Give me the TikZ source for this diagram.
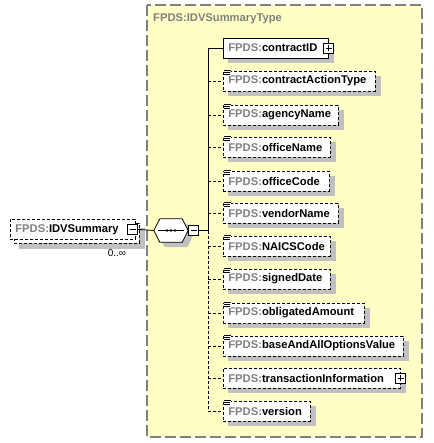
\documentclass[tikz,border=0pt]{standalone}
\usepackage{fontspec}
\setmainfont{Liberation Sans}
\usetikzlibrary{calc}
\definecolor{typebg}{HTML}{FFFFC5}
\definecolor{pfxgray}{HTML}{808080}
\definecolor{shadowgray}{HTML}{C0C0C0}
\definecolor{framegray}{HTML}{808080}
\pgfdeclarelayer{bg}
\pgfdeclarelayer{shadowlayer}
\pgfsetlayers{bg,shadowlayer,main}
\newcommand{\el}[2]{\makebox[#1][l]{\textbf{{\color{pfxgray}FPDS:}#2}}}
\tikzset{
  lbl/.style={font=\fontsize{11.2}{13}\selectfont},
  elembox/.style={draw, fill=white, line width=0.8pt, anchor=west,
    minimum height=20pt, inner xsep=5pt, inner ysep=0pt, lbl},
  optbox/.style={elembox, dash pattern=on 3pt off 2pt},
  pmbox/.style={draw, fill=white, line width=0.9pt, minimum size=10pt, inner sep=0pt},
  minusbox/.style={pmbox, path picture={
      \draw[line width=0.8pt] ([xshift=2pt]path picture bounding box.west) -- ([xshift=-2pt]path picture bounding box.east);}},
  plusbox/.style={pmbox, path picture={
      \draw[line width=0.8pt] ([xshift=2pt]path picture bounding box.west) -- ([xshift=-2pt]path picture bounding box.east)
        ([yshift=2pt]path picture bounding box.south) -- ([yshift=-2pt]path picture bounding box.north);}},
  conn/.style={line width=0.8pt},
  optconn/.style={line width=0.8pt, dash pattern=on 3pt off 2pt},
  seqbox/.style={rectangle, minimum width=34pt, minimum height=23pt, inner sep=0pt},
  docmark/.pic={
    \fill[white] (-0.5,-1) rectangle (7,5);
    \draw[line width=0.6pt] (0,0) -- (6.5,0) (0,2) -- (5.5,2) (0,4) -- (5.5,4);}
}
\begin{document}
\begin{tikzpicture}[x=1pt,y=-1pt]
\useasboundingbox (0,0) rectangle (433,443);
% container
\coordinate (tl) at (147,5);
\coordinate (br) at (422,437);
\begin{pgfonlayer}{bg}
\fill[typebg] (tl) rectangle (br);
\end{pgfonlayer}
\draw[framegray, line width=1.3pt, dash pattern=on 11pt off 4pt] (tl) rectangle (br);
\node[anchor=west, inner sep=0pt, lbl, text=pfxgray] (title) at (153,19) {\textbf{FPDS:IDVSummaryType}};

% root element (multiple occurrences)
\node[optbox, anchor=north west] (idvback) at (14,223) {\phantom{\el{115pt}{IDVSummary}}};
\node[optbox, anchor=north west] (idv) at (10,219) {\el{115pt}{IDVSummary}};
\node[minusbox] (idvm) at ([xshift=-3pt]idv.east) {};
\node[font=\fontsize{10}{12}\selectfont, inner sep=0pt] (occ) at (117,253) {0..∞};

% sequence compositor
\node[seqbox] (seq) at (171,230.5) {};
\draw[line width=0.8pt, fill=white] (seq.west) -- ([xshift=6pt]seq.north west) -- ([xshift=-6pt]seq.north east)
   -- (seq.east) -- ([xshift=-6pt]seq.south east) -- ([xshift=6pt]seq.south west) -- cycle;
\draw[line width=0.9pt] ([xshift=-13pt]seq.center) -- ([xshift=13pt]seq.center);
\fill ([xshift=-4pt]seq.center) circle (1.3pt) (seq.center) circle (1.3pt) ([xshift=4pt]seq.center) circle (1.3pt);
\node[minusbox, anchor=west] (seqm) at (seq.east) {};

% children
\node[elembox]  (c1)  at (223,48)  {\el{95pt}{contractID}};
\node[optbox]   (c2)  at (223,81)  {\el{142pt}{contractActionType}};
\node[optbox]   (c3)  at (223,115) {\el{105pt}{agencyName}};
\node[optbox]   (c4)  at (223,147) {\el{97pt}{officeName}};
\node[optbox]   (c5)  at (223,181) {\el{96pt}{officeCode}};
\node[optbox]   (c6)  at (223,213) {\el{105pt}{vendorName}};
\node[optbox]   (c7)  at (223,246) {\el{97pt}{NAICSCode}};
\node[optbox]   (c8)  at (223,279) {\el{97pt}{signedDate}};
\node[optbox]   (c9)  at (223,313) {\el{131pt}{obligatedAmount}};
\node[optbox]   (c10) at (223,346) {\el{170pt}{baseAndAllOptionsValue}};
\node[optbox]   (c11) at (223,378) {\el{167pt}{transactionInformation}};
\node[optbox]   (c12) at (223,411) {\el{77pt}{version}};

\node[plusbox] (c1p)  at (c1.east) {};
\node[plusbox] (c11p) at (c11.east) {};

\foreach \i in {2,...,10,12} {
  \pic at ($(c\i.north west)+(1,0)$) {docmark};
}

% shadows
\begin{pgfonlayer}{shadowlayer}
  \foreach \n in {idvback,c1,c2,c3,c4,c5,c6,c7,c8,c9,c10,c11,c12} {
    \fill[shadowgray] ($(\n.north west)+(5,5)$) rectangle ($(\n.south east)+(5,5)$);
  }
  \fill[shadowgray] ($(seq.west)+(5,5)$) -- ($(seq.north west)+(11,5)$) -- ($(seq.north east)+(-1,5)$)
     -- ($(seq.east)+(5,5)$) -- ($(seq.south east)+(-1,5)$) -- ($(seq.south west)+(11,5)$) -- cycle;
\end{pgfonlayer}

% connectors
\coordinate (J) at (208,230.5);
\draw[conn] (idvm.east) -- (seq.west);
\draw[conn] (seqm.east) -- (J);
\draw[conn] (J) |- (c1.west);
\draw[optconn] (J) -- (J |- c12.west);
\foreach \i in {2,...,12} {
  \draw[optconn] (J |- c\i.west) -- (c\i.west);
}
\end{tikzpicture}
\end{document}
